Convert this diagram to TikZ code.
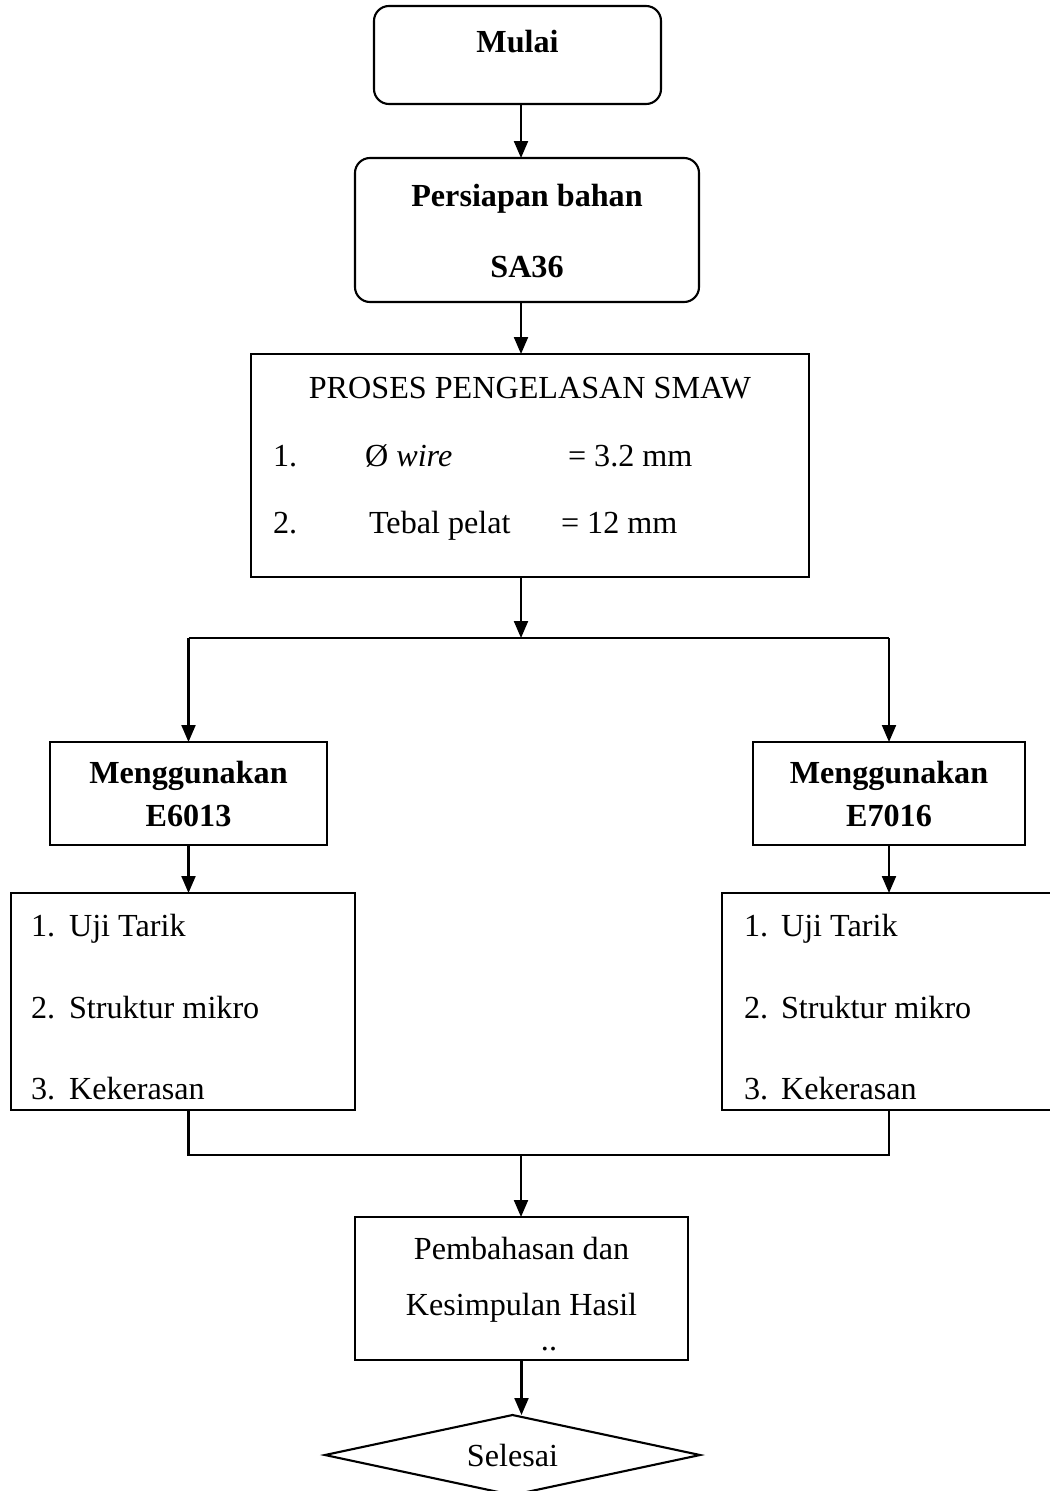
\documentclass[tikz,border=0pt]{standalone}
\usepackage{fontspec}
\setmainfont{Liberation Serif}
\usetikzlibrary{arrows.meta,shapes.geometric}
\def\pu{0.02cm}
\begin{document}
\begin{tikzpicture}[x=0.02cm,y=-0.02cm,
  line width=1.2pt,
  box/.style={draw,inner sep=0pt,outer sep=0pt},
  rbox/.style={box,rounded corners=0.3cm},
  txt/.style={anchor=base,inner sep=0pt,font=\fontsize{18.3}{22}\selectfont},
  btxt/.style={txt,font=\fontsize{18.3}{22}\selectfont\bfseries},
  arr/.style={-{Triangle[length=0.34cm,width=0.28cm]}},
  ]
\clip (0,0) rectangle (1050,1491);
% boxes
\node[rbox,minimum width=287*\pu,minimum height=98*\pu] (mulai) at (517.5,55) {};
\node[rbox,minimum width=344*\pu,minimum height=144*\pu] (bahan) at (527,230) {};
\node[box,minimum width=558*\pu,minimum height=223*\pu] (proses) at (530,465.5) {};
\node[box,minimum width=277*\pu,minimum height=103*\pu] (m1) at (188.5,793.5) {};
\node[box,minimum width=272*\pu,minimum height=103*\pu] (m2) at (889,793.5) {};
\node[box,minimum width=344*\pu,minimum height=217*\pu] (l1) at (183,1001.5) {};
\node[box,minimum width=344*\pu,minimum height=217*\pu] (l2) at (894,1001.5) {};
\node[box,minimum width=333*\pu,minimum height=143*\pu] (pemb) at (521.5,1288.5) {};
\node[draw,diamond,aspect=4.69,inner sep=0pt,outer sep=0pt,minimum width=375*\pu,minimum height=80*\pu,
  font=\fontsize{18.3}{22}\selectfont] (sel) at (512.5,1455) {\raisebox{-6pt}{Selesai}};
% texts
\node[btxt] (tmulai) at (517.5,52) {Mulai};
\node[btxt] (tbahan1) at (527,206) {Persiapan bahan};
\node[btxt] (tbahan2) at (527,277) {SA36};
\node[txt] (tpro) at (530,398) {PROSES PENGELASAN SMAW};
\node[txt,anchor=base west] (tp1a) at (272,466) {1.};
\node[txt,anchor=base west] (tp1b) at (364,466) {Ø \textit{wire}};
\node[txt,anchor=base west] (tp1c) at (567,466) {= 3.2 mm};
\node[txt,anchor=base west] (tp2a) at (272,533) {2.};
\node[txt,anchor=base west] (tp2b) at (368,533) {Tebal pelat};
\node[txt,anchor=base west] (tp2c) at (560,533) {= 12 mm};
\node[btxt] (tm1a) at (188.5,783) {Menggunakan};
\node[btxt] (tm1b) at (188.5,826) {E6013};
\node[btxt] (tm2a) at (889,783) {Menggunakan};
\node[btxt] (tm2b) at (889,826) {E7016};
\foreach \xa/\xb/\nm in {30/68/a,743/780/b}{
  \node[txt,anchor=base west] (n1\nm) at (\xa,936) {1.};
  \node[txt,anchor=base west] (i1\nm) at (\xb,936) {Uji Tarik};
  \node[txt,anchor=base west] (n2\nm) at (\xa,1018) {2.};
  \node[txt,anchor=base west] (i2\nm) at (\xb,1018) {Struktur mikro};
  \node[txt,anchor=base west] (n3\nm) at (\xa,1099) {3.};
  \node[txt,anchor=base west] (i3\nm) at (\xb,1099) {Kekerasan};
}
\node[txt] (tpe1) at (521.5,1259) {Pembahasan dan};
\node[txt] (tpe2) at (521.5,1315) {Kesimpulan Hasil};
\node[txt] (tpe3) at (549,1350) {..};
% connectors
\coordinate (axis) at (521,0);
\coordinate (split) at (521,638);
\coordinate (join) at (521,1155);
\draw[arr] (mulai.south -| axis) -- (bahan.north -| axis);
\draw[arr] (bahan.south -| axis) -- (proses.north -| axis);
\draw[arr] (proses.south -| axis) -- (split);
\draw (m1.north |- split) -- (m2.north |- split);
\draw[arr] (m1.north |- split) -- (m1.north);
\draw[arr] (m2.north |- split) -- (m2.north);
\draw[arr] (m1.south) -- (m1.south |- l1.north);
\draw[arr] (m2.south) -- (m2.south |- l2.north);
\draw (m1.south |- l1.south) -- (m1.south |- join) -- (m2.south |- join) -- (m2.south |- l2.south);
\draw[arr] (join) -- (pemb.north -| axis);
\draw[arr] (pemb.south) -- (pemb.south |- sel.north);
\end{tikzpicture}
\end{document}
